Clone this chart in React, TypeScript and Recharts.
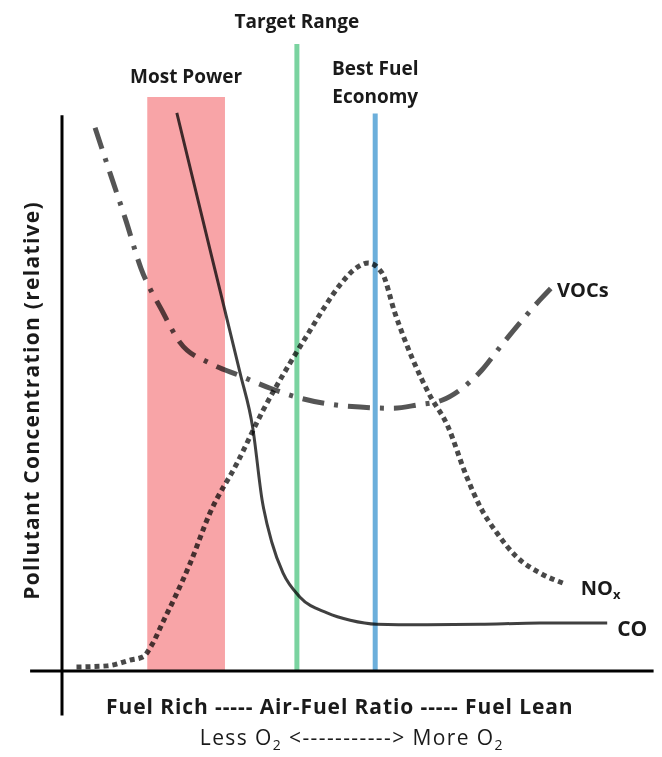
import React from 'react';
import { LineChart, Line, XAxis, YAxis, ReferenceLine, ReferenceArea } from 'recharts';

// Relative units: x = air-fuel ratio position (0 at y-axis), y = relative concentration (0 at x-axis)
const coX = [19.8, 25.5, 30.7, 32.9, 34.5, 36.2, 38.1, 41.0, 45.7, 49.7, 54.3, 61.7, 72.1, 82.4, 94.0];
const coY = [97.9, 74.0, 52.3, 42.6, 30.0, 22.5, 17.2, 13.0, 10.2, 8.9, 8.2, 8.1, 8.2, 8.4, 8.4];

const noxX = [2.5, 7.8, 11.7, 14.0, 15.5, 17.4, 19.5, 22.1, 25.5, 30.2, 34.7, 39.3, 42.8, 45.3, 47.9, 51.0, 52.8, 55.2, 57.4, 60.5, 63.4, 66.4, 69.8, 72.1, 75.0, 78.4, 82.4, 86.7];
const noxY = [0.7, 0.9, 1.9, 2.5, 4.6, 8.6, 13.0, 18.9, 27.7, 36.5, 45.8, 54.0, 59.8, 63.9, 67.7, 70.9, 71.6, 69.8, 62.8, 54.6, 48.4, 43.2, 34.0, 28.8, 24.2, 20.0, 17.2, 15.3];

const vocX = [5.7, 8.4, 11.0, 13.6, 17.2, 20.3, 25.5, 30.7, 35.9, 41.0, 46.2, 51.4, 57.1, 61.4, 65.5, 69.0, 72.4, 75.5, 79.8, 82.4, 85.0];
const vocY = [95.3, 87.0, 79.1, 70.7, 63.3, 57.7, 54.0, 51.8, 49.6, 47.9, 46.8, 46.3, 46.1, 46.7, 47.5, 49.6, 52.8, 56.8, 62.1, 65.1, 67.9];

const mostPower = { x1: 14.7, x2: 28.1, top: 100.7 };
const targetRange = { x: 40.5, top: 110 };
const bestEconomy = { x: 54.0, top: 97.8 };
const yAxisExtent = { bottom: -7.8, top: 97.5 };
const xAxisExtent = { left: -5.5, right: 102 };

const xTitle = 'Fuel Rich ----- Air-Fuel Ratio ----- Fuel Lean';
const yTitle = 'Pollutant Concentration (relative)';

const zip = (xs: number[], ys: number[]) => xs.map((x, i) => ({ x, y: ys[i] }));
const coData = zip(coX, coY);
const noxData = zip(noxX, noxY);
const vocData = zip(vocX, vocY);

const FONT = '"Open Sans", "DejaVu Sans", sans-serif';
const TXT = '#1a1a1a';
const BLEND = { mixBlendMode: 'multiply' as const };

const endLabel = (n: number, render: (x: number, y: number) => React.ReactElement) => (p: any) => {
  if (p.index !== n - 1) return <g key={p.index} />;
  return <g key={p.index}>{render(p.x, p.y)}</g>;
};

const TopLabel = ({ viewBox, lines, dy }: any) => {
  const cx = viewBox.x + (viewBox.width || 0) / 2;
  return (
    <text x={cx} y={viewBox.y + dy} textAnchor="middle" fontFamily={FONT} fontWeight={700} fontSize={19} fill={TXT}>
      {lines.map((l: string, i: number) => (
        <tspan key={i} x={cx} dy={i === 0 ? 0 : 28}>{l}</tspan>
      ))}
    </text>
  );
};

const YTitle = ({ viewBox }: any) => {
  const cx = viewBox.x - 31;
  const cy = viewBox.y + viewBox.height / 2 - 15;
  return (
    <text x={cx} y={cy} transform={`rotate(-90 ${cx} ${cy})`} textAnchor="middle" dominantBaseline="central" fontFamily={FONT} fontWeight={700} fontSize={21} letterSpacing={1.3} fill={TXT}>
      {yTitle}
    </text>
  );
};

const XTitle = ({ viewBox }: any) => {
  const cx = viewBox.x + viewBox.width / 2;
  return (
    <g>
      <text x={cx - 2} y={viewBox.y + 43} textAnchor="middle" fontFamily={FONT} fontWeight={700} fontSize={21} letterSpacing={0.9} fill={TXT}>{xTitle}</text>
      <text x={cx + 10} y={viewBox.y + 74} textAnchor="middle" fontFamily={FONT} fontSize={21} letterSpacing={1.4} fill={TXT}>
        {'Less O'}<tspan fontSize={14} dy={5}>2</tspan><tspan dy={-5}>{' <-----------> More O'}</tspan><tspan fontSize={14} dy={5}>2</tspan>
      </text>
    </g>
  );
};

export default function App() {
  return (
    <div style={{ position: 'absolute', left: 0, top: 0, background: '#fff' }}>
      <LineChart width={662} height={757} margin={{ top: 44, right: 2.6, bottom: 40.4, left: 27.2 }}>
        <XAxis type="number" dataKey="x" domain={[-6, 103]} allowDataOverflow hide />
        <YAxis type="number" dataKey="y" domain={[-8, 110]} allowDataOverflow hide />
        <ReferenceArea x1={mostPower.x1} x2={mostPower.x2} y1={0} y2={mostPower.top} fill="#f8a4a7" fillOpacity={1} stroke="none"
          label={<TopLabel lines={['Most Power']} dy={-14} />} />
        <ReferenceLine segment={[{ x: targetRange.x, y: 0 }, { x: targetRange.x, y: targetRange.top }]} stroke="#7ad3a0" strokeWidth={5}
          label={<TopLabel lines={['Target Range']} dy={-16} />} />
        <ReferenceLine segment={[{ x: bestEconomy.x, y: 0 }, { x: bestEconomy.x, y: bestEconomy.top }]} stroke="#6cafdb" strokeWidth={5}
          label={<TopLabel lines={['Best Fuel', 'Economy']} dy={-39} />} />
        <Line data={vocData} dataKey="y" type="monotone" stroke="#555" strokeWidth={5} strokeDasharray="22 10 4 10" dot={false} isAnimationActive={false} style={BLEND}
          label={endLabel(vocData.length, (x, y) => (
            <text x={x + 2} y={y + 6} dominantBaseline="central" fontFamily={FONT} fontWeight={700} fontSize={20} fill={TXT}>VOCs</text>
          ))} />
        <Line data={noxData} dataKey="y" type="monotone" stroke="#484848" strokeWidth={5} strokeDasharray="5 4" dot={false} isAnimationActive={false} style={BLEND}
          label={endLabel(noxData.length, (x, y) => (
            <text x={x + 16} y={y + 4} dominantBaseline="central" fontFamily={FONT} fontWeight={700} fontSize={20} fill={TXT}>
              NO<tspan fontSize={13} dy={6}>x</tspan>
            </text>
          ))} />
        <Line data={coData} dataKey="y" type="monotone" stroke="#404040" strokeWidth={3} dot={false} isAnimationActive={false} style={BLEND}
          label={endLabel(coData.length, (x, y) => (
            <text x={x + 10} y={y + 5} dominantBaseline="central" fontFamily={FONT} fontWeight={700} fontSize={21} fill={TXT}>CO</text>
          ))} />
        <ReferenceLine segment={[{ x: 0, y: yAxisExtent.bottom }, { x: 0, y: yAxisExtent.top }]} stroke="#000" strokeWidth={3}
          label={<YTitle />} />
        <ReferenceLine segment={[{ x: xAxisExtent.left, y: 0 }, { x: xAxisExtent.right, y: 0 }]} stroke="#000" strokeWidth={3}
          label={<XTitle />} />
      </LineChart>
    </div>
  );
}
